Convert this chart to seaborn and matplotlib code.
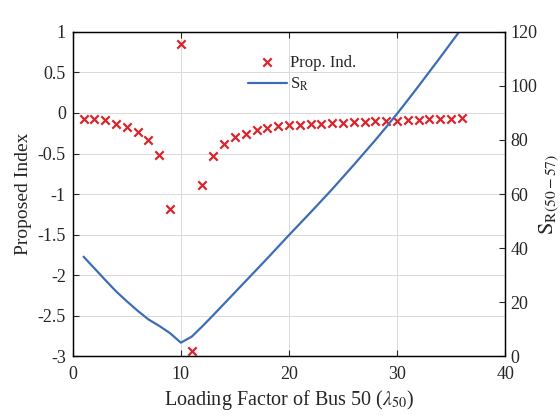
import numpy as np
import pandas as pd
import matplotlib
matplotlib.use("Agg")
import matplotlib.pyplot as plt
import seaborn as sns

# Données
loading_factor = list(range(1, 37))
prop_index = [-0.07, -0.08, -0.09, -0.13, -0.17, -0.23, -0.33, -0.52, -1.18, 0.855,
              -2.94, -0.89, -0.535, -0.38, -0.30, -0.255, -0.215, -0.19, -0.165, -0.15,
              -0.145, -0.135, -0.13, -0.125, -0.12, -0.115, -0.11, -0.105, -0.10, -0.095,
              -0.09, -0.085, -0.08, -0.075, -0.07, -0.065]
s_r = [36.8, 32.5, 28.2, 24.0, 20.3, 16.8, 13.6, 11.2, 8.5, 5.0,
       7.2, 11.1, 15.2, 19.4, 23.6, 27.8, 32.0, 36.2, 40.5, 44.8,
       49.0, 53.2, 57.5, 61.8, 66.3, 70.8, 75.4, 80.0, 84.8, 89.7,
       94.8, 100.0, 105.3, 110.6, 116.0, 121.4]

left_ticks = [1, 0.5, 0, -0.5, -1, -1.5, -2, -2.5, -3]
right_ticks = [0, 20, 40, 60, 80, 100, 120]
x_ticks = [0, 10, 20, 30, 40]

df = pd.DataFrame({"lf": loading_factor, "idx": prop_index, "sr": s_r})

sns.set_style("ticks")
plt.rcParams["font.family"] = ["Liberation Serif", "DejaVu Serif"]
plt.rcParams["mathtext.fontset"] = "stix"
plt.rcParams["xtick.direction"] = "in"
plt.rcParams["ytick.direction"] = "in"

fig = plt.figure(figsize=(5.6, 4.2), dpi=100)
ax = fig.add_axes([0.130, 0.152, 0.772, 0.772])
ax2 = ax.twinx()

red = "#d9262c"
blue = "#3d6db5"

# Courbe S_R sur l'axe de droite
sns.lineplot(data=df, x="lf", y="sr", ax=ax2, color=blue, linewidth=1.6, label="S$_\\mathrm{R}$", legend=False)
# Indice proposé sur l'axe de gauche
sns.scatterplot(data=df, x="lf", y="idx", ax=ax, marker="x", color=red, s=36, linewidth=1.6,
                label="Prop. Ind.", legend=False, zorder=3)

ax.set_xlim(0, 40)
ax.set_ylim(-3, 1)
ax.set_xticks(x_ticks)
ax.set_yticks(left_ticks)
ax.set_yticklabels([f"{t:g}" for t in left_ticks])
ax2.set_ylim(0, 120)
ax2.set_yticks(right_ticks)
ax.grid(True, color="#dadada", linewidth=0.7)
ax.set_axisbelow(True)

ax.tick_params(axis="x", labelsize=13, length=4, width=0.8, top=True, pad=7)
ax.tick_params(axis="y", labelsize=13, length=4, width=0.8, pad=5)
ax2.tick_params(labelsize=13, length=4, width=0.8, pad=4)
for a in (ax, ax2):
    for sp in a.spines.values():
        sp.set_linewidth(0.9)
        sp.set_color("black")

ax.set_xlabel("Loading Factor of Bus 50 ($\\lambda_{50}$)", fontsize=14.5, labelpad=4)
ax.set_ylabel("Proposed Index", fontsize=14, labelpad=4)
ax2.set_ylabel("$\\mathrm{S}_{\\mathrm{R(50-57)}}$", fontsize=16, labelpad=0)

h1, l1 = ax.get_legend_handles_labels()
h2, l2 = ax2.get_legend_handles_labels()
ax2.legend(h1 + h2, l1 + l2, loc="upper left", bbox_to_anchor=(0.405, 0.93), frameon=False,
           fontsize=12, handlelength=2.35, handletextpad=0.15, borderpad=0, borderaxespad=0,
           labelspacing=0.3)

fig.savefig("out.png", dpi=100)
plt.close(fig)
